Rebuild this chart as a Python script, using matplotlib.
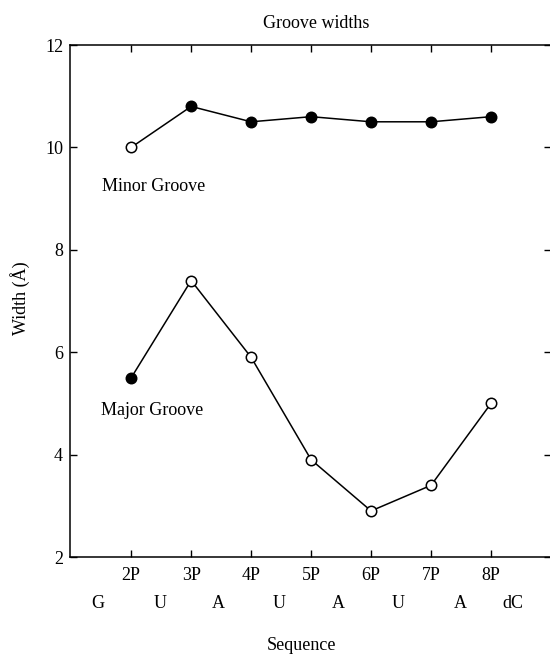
import matplotlib
matplotlib.use("Agg")
import matplotlib.pyplot as plt

plt.rcParams['font.family'] = ['Liberation Serif', 'DejaVu Serif']

positions = [2, 3, 4, 5, 6, 7, 8]
pos_labels = ['2P', '3P', '4P', '5P', '6P', '7P', '8P']
minor = [10.0, 10.8, 10.5, 10.6, 10.5, 10.5, 10.6]
minor_open = [True, False, False, False, False, False, False]
major = [5.5, 7.4, 5.9, 3.9, 2.9, 3.4, 5.0]
major_open = [False, True, True, True, True, True, True]
bases = ['G', 'U', 'A', 'U', 'A', 'U', 'A', 'dC']
base_x = [1.45, 2.48, 3.45, 4.47, 5.45, 6.45, 7.48, 8.37]

fs = 13

fig = plt.figure(figsize=(5.5, 6.56), dpi=100)
ax = fig.add_axes([70 / 550, 1 - 557 / 656, 481 / 550, 512 / 656])


def draw(vals, opens):
    ax.plot(positions, vals, color='black', lw=1.1, zorder=2)
    for x, y, o in zip(positions, vals, opens):
        ax.plot(x, y, 'o', ms=7.5, mec='black', mew=1.1,
                mfc='white' if o else 'black', zorder=3)


draw(minor, minor_open)
draw(major, major_open)

ax.set_xlim(0.98, 9.0)
ax.set_ylim(2, 12)
ax.set_yticks([2, 4, 6, 8, 10, 12])
ax.set_xticks(positions)
ax.set_xticklabels(pos_labels)
ax.tick_params(direction='in', length=5, width=1, top=True, right=True,
               labelsize=fs, pad=7)
ax.tick_params(axis='y', pad=5)
for s in ax.spines.values():
    s.set_linewidth(1.1)

ax.text(1.52, 9.23, 'Minor Groove', fontsize=fs, va='center', ha='left')
ax.text(1.49, 4.87, 'Major Groove', fontsize=fs, va='center', ha='left')

# base sequence row under the position labels
for b, x in zip(bases, base_x):
    px = ax.transData.transform((x, 0))[0]
    fig.text(px / 550, 1 - 603 / 656, b, fontsize=fs, ha='center', va='center')

fig.text(302 / 550, 1 - 645 / 656, 'Sequence', fontsize=fs, ha='center', va='center')
fig.text(316 / 550, 1 - 23 / 656, 'Groove widths', fontsize=fs, ha='center', va='center')
fig.text(20 / 550, 1 - 298 / 656, 'Width (Å)', fontsize=fs, ha='center', va='center',
         rotation=90)

fig.savefig('out.png', dpi=100)
